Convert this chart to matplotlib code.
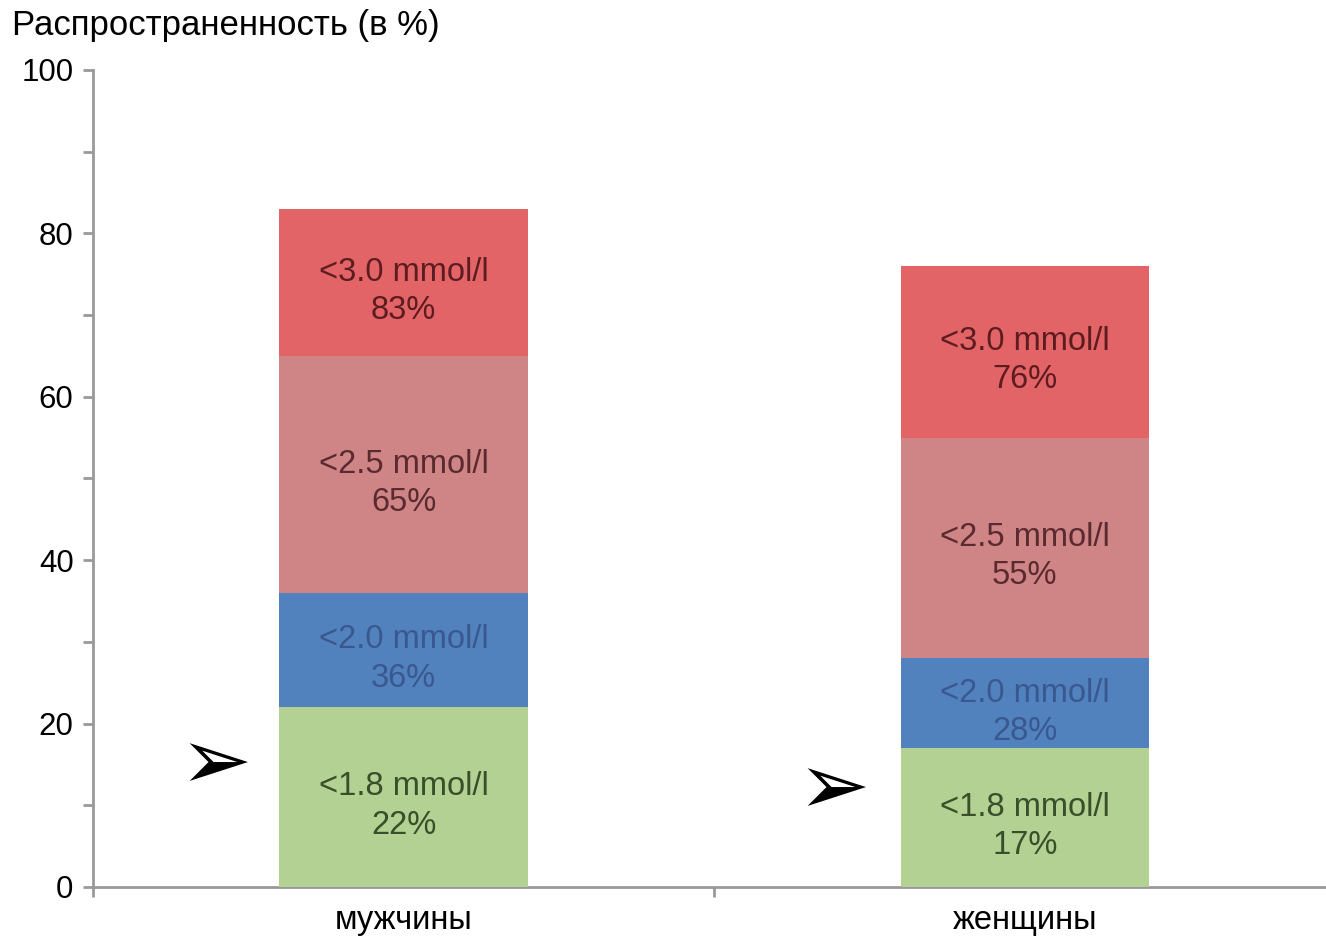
import matplotlib.pyplot as plt
from matplotlib.ticker import MultipleLocator

plt.rcParams['font.family'] = ['Liberation Sans', 'DejaVu Sans']

groups = ["мужчины", "женщины"]
levels = ["<3.0 mmol/l", "<2.5 mmol/l", "<2.0 mmol/l", "<1.8 mmol/l"]
# cumulative prevalence, % (each level includes the lower ones)
men = [83, 65, 36, 22]
women = [76, 55, 28, 17]

bar_colors = ["#e36466", "#cf8585", "#5282bd", "#b2d193"]
text_colors = ["#5c1c20", "#5a2a30", "#3a5890", "#3a4e2a"]

fig = plt.figure(figsize=(13.26, 9.39), dpi=100)
ax = fig.add_axes([0.0701, 0.0554, 0.937, 0.8702])

for gi, vals in enumerate([men, women]):
    for li, v in enumerate(vals):
        ax.bar(gi, v, width=0.4, color=bar_colors[li], zorder=2 + li)
        below = vals[li + 1] if li + 1 < len(vals) else 0
        mid = (v + below) / 2 - 1.1
        ax.text(gi, mid, f"{levels[li]}\n{v}%", ha="center", va="center",
                fontsize=23.5, color=text_colors[li], linespacing=1.3, zorder=10)

# arrows marking the <1.8 level
ax.text(-0.245, 14.8, "➢", family="DejaVu Sans", fontsize=62, ha="right", va="center",
        color="black")
ax.text(0.75, 11.8, "➢", family="DejaVu Sans", fontsize=62, ha="right", va="center",
        color="black")

ax.set_xlim(-0.5, 1.5)
ax.set_ylim(0, 100)
ax.set_xticks([0, 1])
ax.set_xticklabels(groups, fontsize=23.5)
ax.xaxis.set_minor_locator(MultipleLocator(1, offset=0.5))
ax.tick_params(axis="x", which="major", length=0, pad=13)
ax.tick_params(axis="x", which="minor", length=7, color="#999999", width=2, direction="out")
ax.yaxis.set_major_locator(MultipleLocator(20))
ax.yaxis.set_minor_locator(MultipleLocator(10))
ax.tick_params(axis="y", which="both", length=7, color="#999999", width=2,
               labelsize=22.5, pad=7)

for side in ["top", "right"]:
    ax.spines[side].set_visible(False)
for side in ["left", "bottom"]:
    ax.spines[side].set_color("#999999")
    ax.spines[side].set_linewidth(2)

fig.text(0.009, 0.973, "Распространенность (в %)", fontsize=25, ha="left", va="center")

fig.savefig("out.png", dpi=100)
